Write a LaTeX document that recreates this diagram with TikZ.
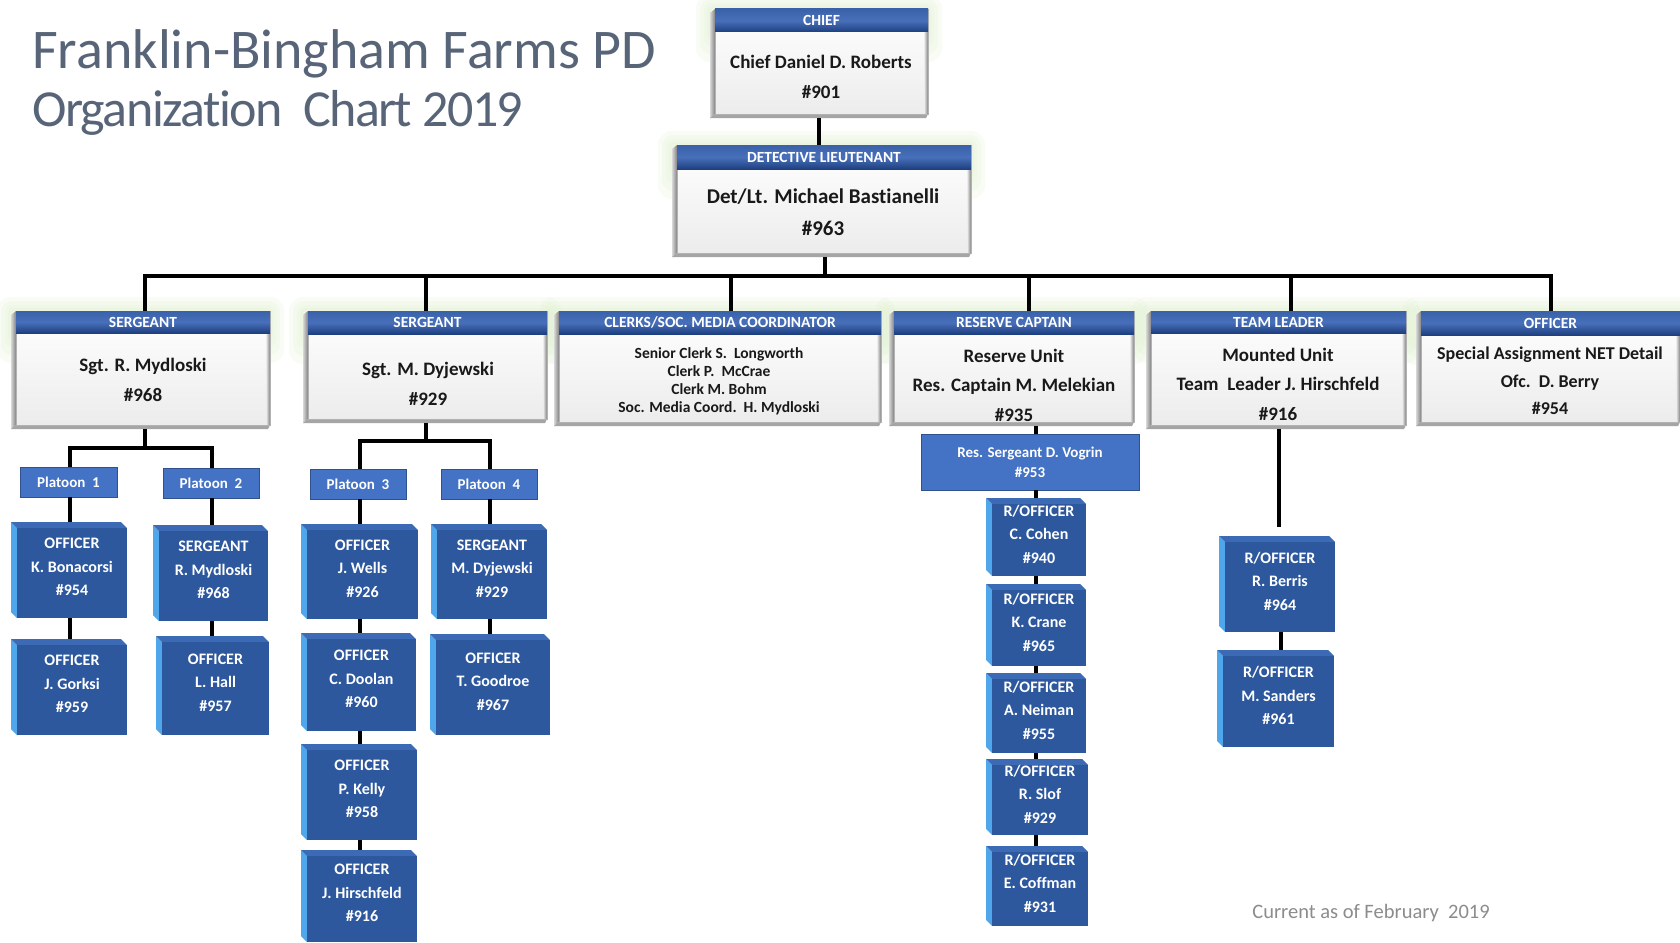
\documentclass[tikz,border=0pt]{standalone}
\usepackage{fontspec}
\setmainfont{Carlito}[Ligatures=NoCommon]
\usetikzlibrary{calc}
\pgfdeclarelayer{background}
\pgfsetlayers{background,main}
\definecolor{titlecol}{RGB}{88,101,121}
\definecolor{hdrA}{RGB}{58,98,170}
\definecolor{hdrB}{RGB}{72,112,186}
\definecolor{hdrC}{RGB}{30,64,128}
\definecolor{bface}{RGB}{45,88,158}
\definecolor{bside}{RGB}{80,166,234}
\definecolor{btop}{RGB}{60,106,180}
\definecolor{flat}{RGB}{68,114,196}
\definecolor{flatline}{RGB}{47,82,143}
\definecolor{glowc}{RGB}{226,242,210}
\definecolor{cardsideA}{RGB}{215,215,215}
\definecolor{cardsideB}{RGB}{130,130,130}
\definecolor{cardbot}{RGB}{165,165,165}
\definecolor{cardbody}{RGB}{236,236,236}
\definecolor{footc}{RGB}{140,140,140}
\tikzset{
  conn/.style={line width=3.2pt, black},
  boxnode/.style={rectangle, inner sep=0pt, outer sep=0pt},
  cardedge/.style={draw=black!30, line width=0.8pt},
  hdrtext/.style={text=white, font=\bfseries\fontsize{15.5}{17}\selectfont, inner sep=0pt},
  bodytext/.style={text=black!90, font=\bfseries\fontsize{19}{30}\selectfont, align=center, inner sep=0pt},
  btext/.style={text=white, font=\bfseries\fontsize{16}{23.5}\selectfont, align=center, inner sep=0pt},
  ftext/.style={text=white, font=\bfseries\fontsize{15}{20}\selectfont, align=center, inner sep=0pt},
  flatnode/.style={boxnode, fill=flat, draw=flatline, line width=1pt},
  glow/.style={fill=glowc, opacity=0.22},
}
% white card: name, x1, y1, x2, y2, header height, header text
\newcommand{\wcard}[7]{%
  \begin{pgfonlayer}{background}
    \fill[glow, rounded corners=14pt] ({#2-14},{#3-14}) rectangle ({#4+14},{#3+#6+30});
    \fill[glow, rounded corners=11pt] ({#2-10},{#3-10}) rectangle ({#4+10},{#3+#6+22});
    \fill[glow, rounded corners=8pt] ({#2-6},{#3-6}) rectangle ({#4+6},{#3+#6+14});
    \fill[glow, rounded corners=5pt] ({#2-3},{#3-3}) rectangle ({#4+3},{#3+#6+7});
  \end{pgfonlayer}
  \shade[left color=cardsideA, right color=cardsideB] (#2,{#3+4}) -- ({#2+5},#3) -- ({#2+5},{#5-4}) -- (#2,#5) -- cycle;
  \fill[cardbot] (#2,#5) -- ({#2+5},{#5-4}) -- (#4,{#5-4}) -- ({#4-2},#5) -- cycle;
  \shade[top color=white, bottom color=cardbody] ({#2+5},#3) rectangle (#4,{#5-4});
  \shade[left color=cardbody, right color=cardsideB] ({#4-4},{#3+#6}) rectangle (#4,{#5-4});
  \draw[cardedge] ({#2+5},#3) rectangle (#4,{#5-4});
  \shade[top color=hdrA, bottom color=hdrC, middle color=hdrB] ({#2+5},#3) rectangle (#4,{#3+#6});
  \node[boxnode, minimum width={#4-#2}, minimum height={#5-#3}, anchor=north west] (#1) at (#2,#3) {};
  \node[hdrtext] (#1-h) at ({(#2+5+#4)/2},{#3+#6/2}) {#7};
}
% blue 3D box: name, x1, y1, x2, y2, text
\newcommand{\bbox}[6]{%
  \fill[bside] (#2,#3) -- ({#2+6},{#3+6}) -- ({#2+6},#5) -- (#2,{#5-6}) -- cycle;
  \fill[btop] (#2,#3) -- ({#4-6},#3) -- (#4,{#3+6}) -- ({#2+6},{#3+6}) -- cycle;
  \fill[bface] ({#2+6},{#3+6}) rectangle (#4,#5);
  \node[boxnode, minimum width={#4-#2}, minimum height={#5-#3}, anchor=north west] (#1) at (#2,#3) {};
  \node[btext] (#1-t) at ({(#2+6+#4)/2},{(#3+6+#5)/2-6}) {#6};
}
% flat box: name, x1, y1, x2, y2, text
\newcommand{\flatbox}[6]{%
  \node[flatnode, minimum width={#4-#2}, minimum height={#5-#3}, anchor=north west] (#1) at (#2,#3) {};
  \node[ftext] (#1-t) at ({(#2+#4)/2},{(#3+#5)/2}) {#6};
}
\begin{document}
\begin{tikzpicture}[x=1pt,y=-1pt]
\begin{pgfonlayer}{background}
  \fill[white] (0,0) rectangle (1680,942);
\end{pgfonlayer}
\useasboundingbox (0,0) rectangle (1680,942);

% title
\node[anchor=base west, inner sep=0pt, text=titlecol, font=\fontsize{56}{60}\selectfont] (title1) at (32,68) {Franklin-Bingham Farms PD};
\node[anchor=base west, inner sep=0pt, text=titlecol, font=\fontsize{52}{60}\selectfont\addfontfeatures{LetterSpace=-3}] (title2) at (32,126) {Organization\ \ Chart 2019};

% top
\wcard{chief}{710}{9}{928}{118}{23}{CHIEF}
\node[bodytext] (chief-t) at (821,77) {Chief Daniel D. Roberts\\\#901};
\wcard{detlt}{672}{145}{971}{257}{24}{DETECTIVE LIEUTENANT}
\node[bodytext, font=\bfseries\fontsize{21}{32}\selectfont] (detlt-t) at (823,212) {Det/Lt. Michael Bastianelli\\\#963};

% level 2
\wcard{sgt1}{11}{311}{270}{429}{22}{SERGEANT}
\node[bodytext] (sgt1-t) at (143,380) {Sgt. R. Mydloski\\\#968};
\wcard{sgt2}{303}{311}{547}{423}{23}{SERGEANT}
\node[bodytext] (sgt2-t) at (428,384) {Sgt. M. Dyjewski\\\#929};
\wcard{clerks}{554}{311}{881}{426}{23}{CLERKS/SOC. MEDIA COORDINATOR}
\node[bodytext, font=\bfseries\fontsize{15.5}{18}\selectfont] (clerks-t) at (719,381) {Senior Clerk S.\ \ Longworth\\Clerk P.\ \ McCrae\\Clerk M. Bohm\\Soc. Media\ Coord.\ \ H. Mydloski};
\wcard{rescap}{889}{311}{1134}{426}{23}{RESERVE CAPTAIN}
\node[bodytext, font=\bfseries\fontsize{19}{29.5}\selectfont] (rescap-t) at (1014,385) {Reserve Unit\\Res. Captain M. Melekian\\\#935};
\wcard{team}{1146}{311}{1406}{429}{22}{TEAM LEADER}
\node[bodytext, font=\bfseries\fontsize{19}{29.5}\selectfont] (team-t) at (1278,384) {Mounted Unit\\Team\ \ Leader J. Hirschfeld\\\#916};
\wcard{ofc}{1416}{311}{1680}{426}{24}{OFFICER}
\node[bodytext, font=\bfseries\fontsize{18}{27.5}\selectfont] (ofc-t) at (1550,381) {Special Assignment NET Detail\\Ofc.\ \ D. Berry\\\#954};

% platoons
\flatbox{p1}{20}{467}{117}{497}{Platoon\ \ 1}
\flatbox{p2}{163}{468}{259}{498}{Platoon\ \ 2}
\flatbox{p3}{310}{469}{406}{499}{Platoon\ \ 3}
\flatbox{p4}{441}{469}{537}{499}{Platoon\ \ 4}

% officer boxes
\bbox{o11}{11}{522}{127}{618}{OFFICER\\K. Bonacorsi\\\#954}
\bbox{o12}{11}{639}{127}{735}{OFFICER\\J. Gorksi\\\#959}
\bbox{o21}{153}{525}{268}{621}{SERGEANT\\R. Mydloski\\\#968}
\bbox{o22}{156}{636}{269}{735}{OFFICER\\L. Hall\\\#957}
\bbox{o31}{301}{524}{418}{619}{OFFICER\\J. Wells\\\#926}
\bbox{o32}{301}{633}{416}{731}{OFFICER\\C. Doolan\\\#960}
\bbox{o33}{301}{744}{417}{840}{OFFICER\\P. Kelly\\\#958}
\bbox{o34}{301}{850}{417}{942}{OFFICER\\J. Hirschfeld\\\#916}
\bbox{o41}{431}{524}{547}{619}{SERGEANT\\M. Dyjewski\\\#929}
\bbox{o42}{430}{634}{550}{735}{OFFICER\\T. Goodroe\\\#967}

% reserve column
\flatbox{vog}{921}{434}{1139}{490}{Res. Sergeant D. Vogrin\\\#953}
\bbox{r1}{986}{498}{1086}{576}{R/OFFICER\\C. Cohen\\\#940}
\bbox{r2}{986}{584}{1086}{666}{R/OFFICER\\K. Crane\\\#965}
\bbox{r3}{986}{673}{1086}{753}{R/OFFICER\\A. Neiman\\\#955}
\bbox{r4}{986}{759}{1088}{835}{R/OFFICER\\R. Slof\\\#929}
\bbox{r5}{986}{846}{1088}{926}{R/OFFICER\\E. Coffman\\\#931}

% mounted column
\bbox{m1}{1219}{536}{1335}{632}{R/OFFICER\\R. Berris\\\#964}
\bbox{m2}{1217}{650}{1334}{747}{R/OFFICER\\M. Sanders\\\#961}

% footnote
\node[anchor=base, inner sep=0pt, text=footc, font=\fontsize{20.5}{24}\selectfont] (foot) at (1371,918) {Current as of February\ \ 2019};

% connectors
\coordinate (bus) at (825,276);
\coordinate (d1) at (145,276);
\coordinate (d2) at (426,276);
\coordinate (d3) at (731,276);
\coordinate (d4) at (1029,276);
\coordinate (d5) at (1291,276);
\coordinate (d6) at (1551,276);
\draw[conn] (chief.south) -- (chief.south |- detlt.north);
\draw[conn] (bus |- detlt.south) -- (bus);
\draw[conn, line cap=rect] (d1) -- (d6);
\foreach \d/\n in {d1/sgt1,d2/sgt2,d3/clerks,d4/rescap,d5/team,d6/ofc}{
  \draw[conn] (\d) -- (\d |- \n.north);
}
\coordinate (c1) at (70,0);
\coordinate (c2) at (212,0);
\coordinate (c3) at (360,0);
\coordinate (c4) at (490,0);
\coordinate (j1) at (145,448);
\coordinate (j2) at (426,441);
\draw[conn] (j1 |- sgt1.south) -- (j1);
\draw[conn] (c1 |- p1.north) |- (j1) -| (c2 |- p2.north);
\draw[conn] (j2 |- sgt2.south) -- (j2);
\draw[conn] (c3 |- p3.north) |- (j2) -| (c4 |- p4.north);
\draw[conn] (c1 |- p1.south) -- (c1 |- o11.north);
\draw[conn] (c1 |- o11.south) -- (c1 |- o12.north);
\draw[conn] (c2 |- p2.south) -- (c2 |- o21.north);
\draw[conn] (c2 |- o21.south) -- (c2 |- o22.north);
\draw[conn] (c3 |- p3.south) -- (c3 |- o31.north);
\draw[conn] (c3 |- o31.south) -- (c3 |- o32.north);
\draw[conn] (c3 |- o32.south) -- (c3 |- o33.north);
\draw[conn] (c3 |- o33.south) -- (c3 |- o34.north);
\draw[conn] (c4 |- p4.south) -- (c4 |- o41.north);
\draw[conn] (c4 |- o41.south) -- (c4 |- o42.north);
\coordinate (cr) at (1036,0);
\draw[conn] (cr |- rescap.south) -- (cr |- vog.north);
\draw[conn] (cr |- vog.south) -- (cr |- r1.north);
\draw[conn] (cr |- r1.south) -- (cr |- r2.north);
\draw[conn] (cr |- r2.south) -- (cr |- r3.north);
\draw[conn] (cr |- r3.south) -- (cr |- r4.north);
\draw[conn] (cr |- r4.south) -- (cr |- r5.north);
\coordinate (ct) at (1279,0);
\coordinate (tend) at (1279,527);
\draw[conn] (ct |- team.south) -- (tend);
\coordinate (ct2) at (1281,0);
\draw[conn] (ct2 |- m1.south) -- (ct2 |- m2.north);
\end{tikzpicture}
\end{document}
